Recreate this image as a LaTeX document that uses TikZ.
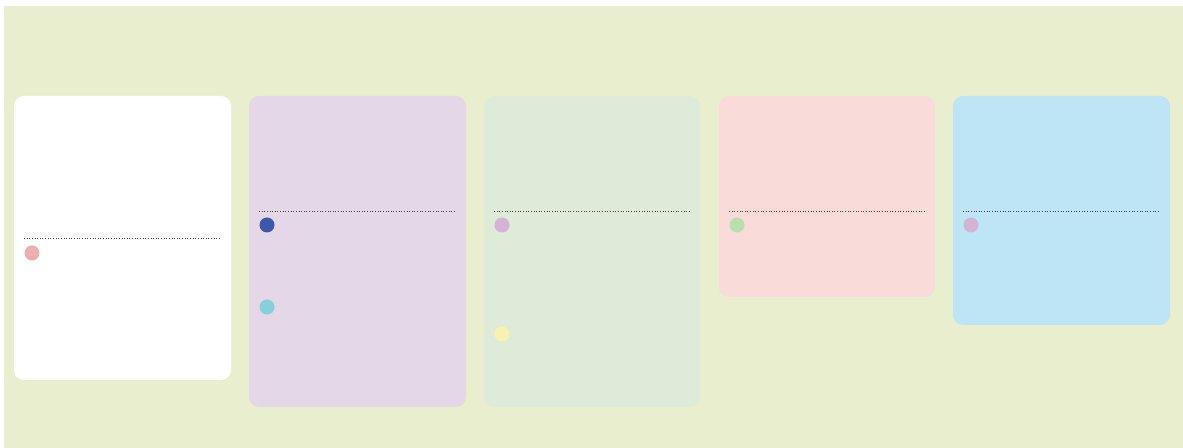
\documentclass[tikz,border=0pt]{standalone}
\usepackage{xcolor}
\definecolor{bgpanel}{HTML}{E9EFCE}
\definecolor{cardlilac}{HTML}{E3D7E8}
\definecolor{cardmint}{HTML}{DDEBD8}
\definecolor{cardrose}{HTML}{F9DBDA}
\definecolor{cardsky}{HTML}{BEE5F5}
\definecolor{dotrose}{HTML}{EBAFAF}
\definecolor{dotnavy}{HTML}{3F57A8}
\definecolor{dotteal}{HTML}{85D0DA}
\definecolor{dotorchid}{HTML}{D4B3D6}
\definecolor{dotcream}{HTML}{F8F2B0}
\definecolor{dotsage}{HTML}{B8DFB0}

\begin{document}
\begin{tikzpicture}[x=0.02cm,y=-0.02cm,
  card/.style={rounded corners=0.2cm},
  rule/.style={densely dotted,line width=0.5pt,black!75},
  blob/.style={radius=7.5}]
  \useasboundingbox[fill=white] (0,0) rectangle (1183,448);
  \fill[bgpanel] (4,6) rectangle (1183,448);
  % cards
  \fill[card,white] (14,96) rectangle (231,380);
  \fill[card,cardlilac] (249,96) rectangle (466,407);
  \fill[card,cardmint] (484,96) rectangle (700,407);
  \fill[card,cardrose] (719,96) rectangle (935,297);
  \fill[card,cardsky] (953,96) rectangle (1170,325);
  % separators
  \draw[rule] (24,238)--(221,238);
  \draw[rule] (259,211)--(456,211); \draw[rule] (494,211)--(690,211);
  \draw[rule] (729,211)--(925,211); \draw[rule] (963,211)--(1160,211);
  % markers
  \fill[dotrose] (32,253) circle[blob];
  \fill[dotnavy] (267,225) circle[blob]; \fill[dotteal] (267,307) circle[blob];
  \fill[dotorchid] (502,225) circle[blob]; \fill[dotcream] (502,334) circle[blob];
  \fill[dotsage] (737,225) circle[blob];
  \fill[dotorchid] (971,225) circle[blob];
\end{tikzpicture}
\end{document}
